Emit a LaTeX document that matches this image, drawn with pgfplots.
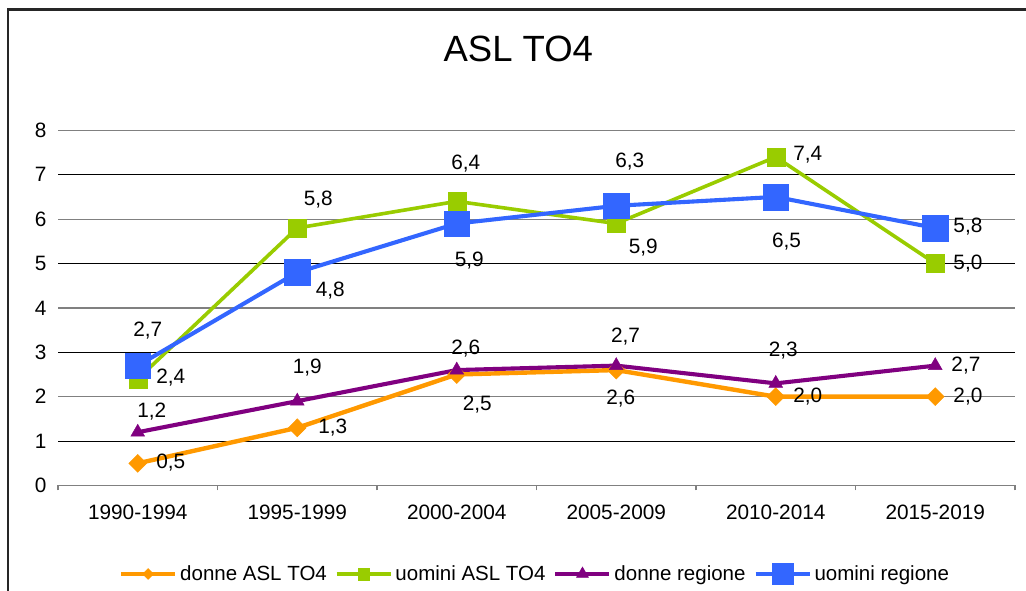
\documentclass[border=0pt]{standalone}
\usepackage{fontspec}
\setmainfont{Liberation Sans}
\usepackage{pgfplots}
\usepackage{pgfplotstable}
\pgfplotsset{compat=1.18}

\definecolor{cOrange}{HTML}{FF9900}
\definecolor{cGreen}{HTML}{99CC00}
\definecolor{cPurple}{HTML}{800080}
\definecolor{cBlue}{HTML}{3366FF}
\definecolor{cGrid}{HTML}{808080}

\newcommand{\lblfont}{\fontsize{20.8}{24}\selectfont}

% x, value, label, label offset (dx, dy in pt)
\pgfplotstableread{
x y lab dx dy
0 0.5 0,5 33 1
1 1.3 1,3 35.5 0
2 2.5 2,5 20.6 -29.7
3 2.6 2,6 4.6 -29
4 2.0 2,0 32 0
5 2.0 2,0 32.7 0
}\donneasl

\pgfplotstableread{
x y lab dx dy
0 2.4 2,4 33 1
1 5.8 5,8 21 28
2 6.4 6,4 9 38
3 5.9 5,9 27 -24
4 7.4 7,4 32 2.7
5 5.0 5,0 32.7 0
}\uominiasl

\pgfplotstableread{
x y lab dx dy
0 1.2 1,2 14 20.5
1 1.9 1,9 10 34
2 2.6 2,6 9 21
3 2.7 2,7 9.3 29
4 2.3 2,3 7.5 33
5 2.7 2,7 30.7 0
}\donnereg

\pgfplotstableread{
x y lab dx dy
0 2.7 2,7 10 35
1 4.8 4,8 33 -18
2 5.9 5,9 12.6 -37
3 6.3 6,3 13.5 44
4 6.5 6,5 10.8 -44.8
5 5.8 5,8 32.7 1.3
}\uominireg

\pgfplotsset{lbl/.style={nodes near coords, point meta=explicit symbolic,
  visualization depends on={\thisrow{dx} \as \dx},
  visualization depends on={\thisrow{dy} \as \dy},
  every node near coord/.append style={anchor=center, inner sep=0pt,
    text=black, font=\lblfont, xshift=\dx pt, yshift=\dy pt}}}

\begin{document}
\begin{tikzpicture}
\path[use as bounding box] (0pt,0pt) rectangle (1026pt,591pt);
% chart frame (cut at right and bottom)
\draw[line width=2.5pt, black!85] (7.8pt,-5pt) -- (7.8pt,581.5pt) -- (1040pt,581.5pt);
\node[font=\fontsize{36.5}{40}\selectfont] at (518.3pt,542.3pt) {ASL TO4};

\begin{axis}[
  at={(58pt,105.5pt)}, anchor=south west,
  scale only axis, width=957pt, height=355.2pt,
  xmin=-0.5, xmax=5.5, ymin=0, ymax=8,
  clip=false,
  axis lines*=left,
  x axis line style={cGrid, line width=1.2pt},
  y axis line style={draw=none},
  xtick={0,...,5},
  xticklabels={1990-1994,1995-1999,2000-2004,2005-2009,2010-2014,2015-2019},
  minor xtick={-0.5,0.5,...,5.5},
  tick align=outside,
  major tick length=0pt,
  minor tick length=5pt,
  minor tick style={cGrid, line width=1.2pt},
  ytick={1,3,5,7},
  extra y ticks={0,2,4,6,8},
  extra y tick style={grid=major, major grid style={cGrid, line width=1.2pt}},
  ymajorgrids=true,
  major grid style={black, line width=0.9pt},
  tick label style={font=\lblfont},
  /pgf/number format/assume math mode=true,
  xticklabel style={yshift=-15.5pt},
  yticklabel style={xshift=-8pt},
  legend columns=4,
  legend cell align=left,
  legend image code/.code={\draw[mark repeat=2,mark phase=2,#1]
    plot coordinates {(0pt,0pt)(27pt,0pt)(54pt,0pt)};},
  legend style={draw=none, fill=none, at={(0.499,-0.249)}, anchor=center,
    font=\fontsize{20.5}{24}\selectfont,
    nodes={inner xsep=3pt},
    /tikz/every even column/.append style={column sep=5pt}},
]
\addplot[forget plot, color=cOrange, line width=4.4pt, mark=diamond*, mark size=9pt,
  mark options={line width=0.4pt, xscale=1.33}, lbl]
  table[x=x, y=y, meta=lab] {\donneasl};
\addplot[forget plot, color=cGreen, line width=3.6pt, mark=square*, mark size=9pt,
  mark options={line width=0.4pt}, lbl]
  table[x=x, y=y, meta=lab] {\uominiasl};
\addplot[forget plot, color=cPurple, line width=4.1pt, mark=triangle*, mark size=8pt,
  mark options={line width=0.4pt}, lbl]
  table[x=x, y=y, meta=lab] {\donnereg};
\addplot[forget plot, color=cBlue, line width=4.1pt, mark=square*, mark size=12.8pt,
  mark options={line width=0.4pt}, lbl]
  table[x=x, y=y, meta=lab] {\uominireg};

\addlegendimage{color=cOrange, line width=4.2pt, mark=diamond*, mark size=5.5pt,
  mark options={line width=0.4pt, xscale=1.33}}
\addlegendimage{color=cGreen, line width=3.6pt, mark=square*, mark size=5.8pt,
  mark options={line width=0.4pt}}
\addlegendimage{color=cPurple, line width=4pt, mark=triangle*, mark size=7pt,
  mark options={line width=0.4pt}}
\addlegendimage{color=cBlue, line width=4pt, mark=square*, mark size=10.5pt,
  mark options={line width=0.4pt}}
\legend{donne ASL TO4, uomini ASL TO4, donne regione, uomini regione}
\end{axis}
\end{tikzpicture}
\end{document}
